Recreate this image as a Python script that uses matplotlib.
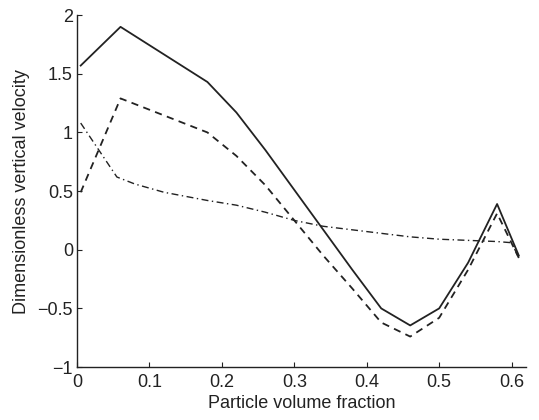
import numpy as np
import matplotlib
matplotlib.use("Agg")
import matplotlib.pyplot as plt

plt.rcParams['font.family'] = ['Liberation Sans', 'DejaVu Sans']

phi = [0.005, 0.06, 0.18, 0.22, 0.26, 0.30, 0.34, 0.38, 0.42, 0.46, 0.50, 0.54, 0.58, 0.61]
v_solid = [1.57, 1.90, 1.43, 1.17, 0.85, 0.51, 0.17, -0.17, -0.50, -0.645, -0.50, -0.11, 0.39, -0.05]
v_dashed = [0.49, 1.29, 1.00, 0.80, 0.55, 0.25, -0.05, -0.33, -0.62, -0.74, -0.58, -0.17, 0.31, -0.07]

phi_dd = [0.005, 0.03, 0.055, 0.08, 0.12, 0.18, 0.22, 0.26, 0.30, 0.34, 0.38, 0.42, 0.46, 0.50, 0.54, 0.58, 0.60, 0.61]
v_dd = [1.08, 0.85, 0.62, 0.56, 0.49, 0.42, 0.38, 0.32, 0.25, 0.20, 0.17, 0.14, 0.11, 0.09, 0.08, 0.07, 0.06, -0.07]

fig = plt.figure(figsize=(5.39, 4.2), dpi=100)
ax = fig.add_axes([0.143, 0.126, 0.833, 0.838])

ax.plot(phi, v_solid, color='#222222', lw=1.3, ls='-')
ax.plot(phi, v_dashed, color='#222222', lw=1.3, ls=(0, (4, 3)))
ax.plot(phi_dd, v_dd, color='#222222', lw=1.0, ls=(0, (5, 2.5, 1, 2.5)))

ax.set_xlim(0, 0.62)
ax.set_ylim(-1, 2)
ax.set_xticks([0, 0.1, 0.2, 0.3, 0.4, 0.5, 0.6])
ax.set_xticklabels(['0', '0.1', '0.2', '0.3', '0.4', '0.5', '0.6'])
ax.set_yticks([-1, -0.5, 0, 0.5, 1, 1.5, 2])
ax.set_yticklabels(['\u22121', '\u22120.5', '0', '0.5', '1', '1.5', '2'])

ax.spines['top'].set_visible(False)
ax.spines['right'].set_visible(False)
for s in ['left', 'bottom']:
    ax.spines[s].set_color('#222222')
    ax.spines[s].set_linewidth(1.0)
ax.tick_params(direction='in', length=3.5, width=0.8, labelsize=13,
               colors='#222222')
ax.tick_params(axis='x', pad=5)
ax.tick_params(axis='y', pad=3)

ax.set_xlabel('Particle volume fraction', fontsize=13, color='#222222', labelpad=3)
ax.set_ylabel('Dimensionless vertical velocity', fontsize=13, color='#222222', labelpad=5)

fig.savefig('out.png', dpi=100)
